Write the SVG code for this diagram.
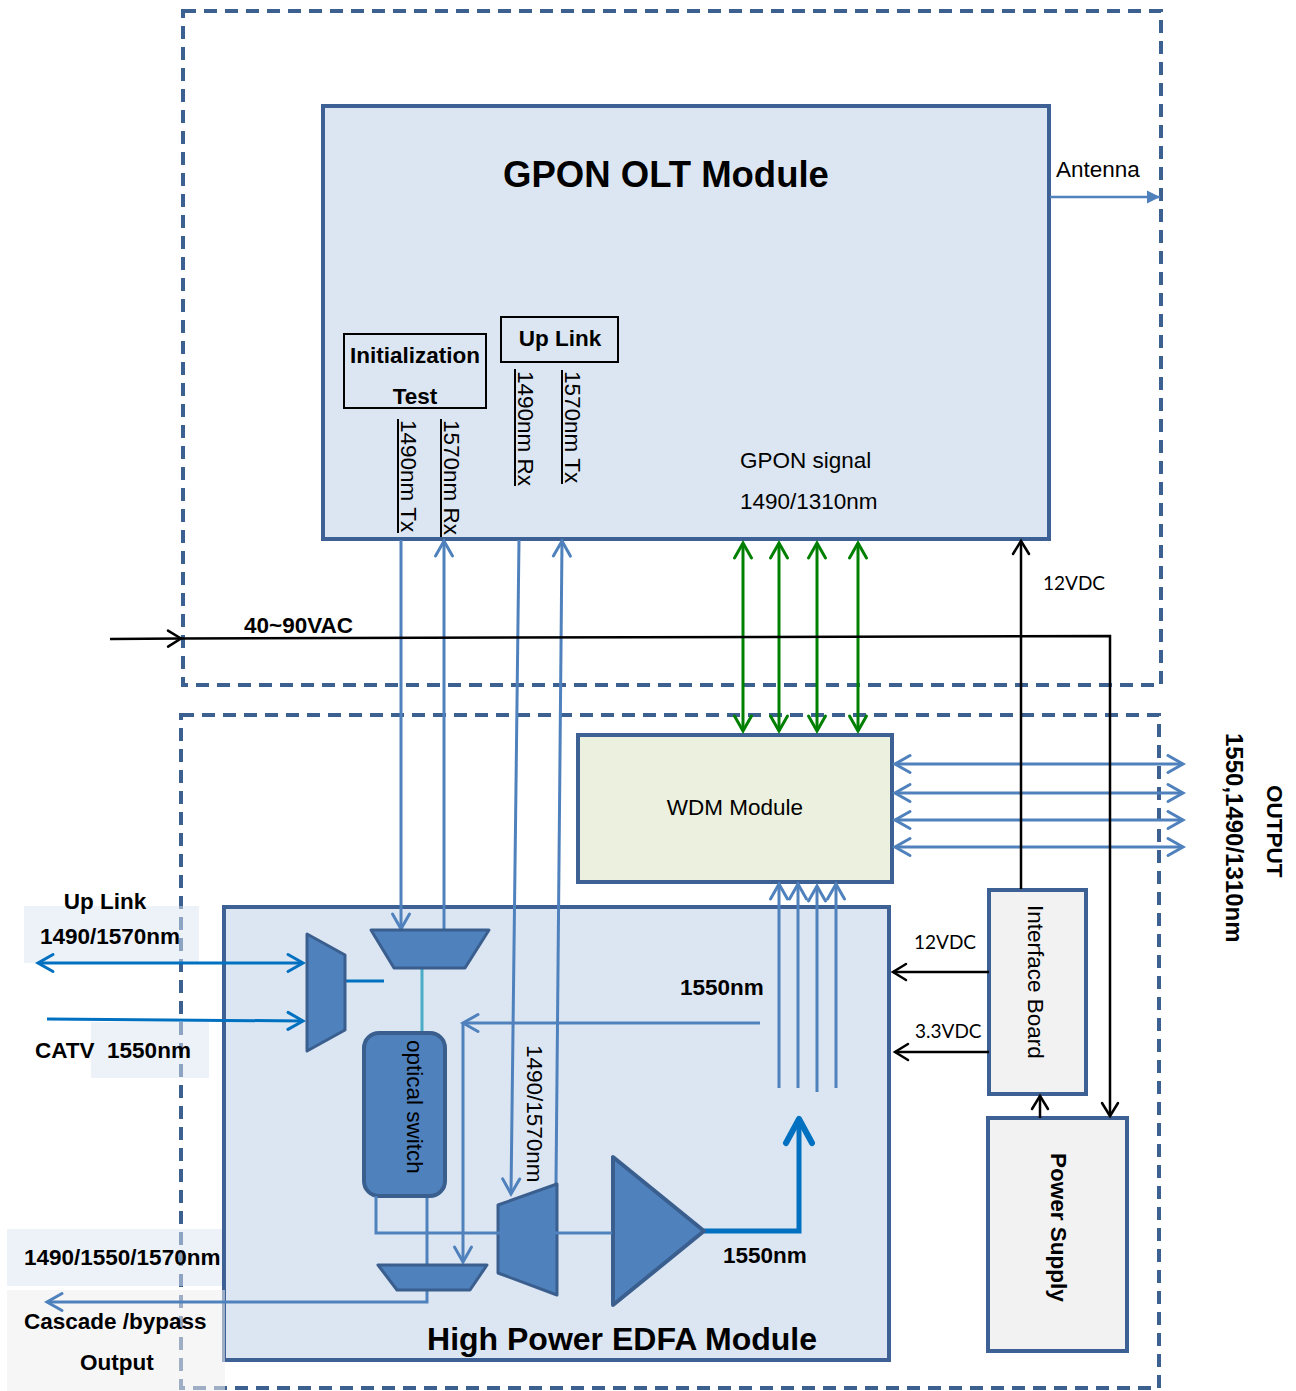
<svg xmlns="http://www.w3.org/2000/svg" width="1296" height="1391" viewBox="0 0 1296 1391">
<style>
.t{font-family:"Liberation Sans",Arial,sans-serif;font-size:22.5px;fill:#000}
.b{font-weight:bold}
.c{font-family:Lato,"Liberation Sans",sans-serif;font-size:19px;fill:#000}
.dash{fill:none;stroke:#3c6090;stroke-width:4;stroke-dasharray:13 8}
.mod{fill:#dce6f2;stroke:#3d6194;stroke-width:4}
.gray{fill:#f2f2f2;stroke:#3d6194;stroke-width:4}
.dev{fill:#4f81bd;stroke:#3a5f8f;stroke-width:3;stroke-linejoin:round}
.bl{fill:none;stroke:#4f81bd;stroke-width:3}
.db{fill:none;stroke:#0070c0;stroke-width:3}
.gr{fill:none;stroke:#008000;stroke-width:3}
.bk{fill:none;stroke:#000;stroke-width:2.5}
.ul{stroke:#000;stroke-width:2}
</style>
<defs>
<marker id="mb" viewBox="-16 -10 18 20" refX="0" refY="0" markerWidth="18" markerHeight="20" markerUnits="userSpaceOnUse" orient="auto-start-reverse" overflow="visible"><path d="M-15,-8.5 L0,0 L-15,8.5" fill="none" stroke="#4f81bd" stroke-width="3" stroke-linecap="round"/></marker>
<marker id="md" viewBox="-16 -10 18 20" refX="0" refY="0" markerWidth="18" markerHeight="20" markerUnits="userSpaceOnUse" orient="auto-start-reverse" overflow="visible"><path d="M-15,-8.5 L0,0 L-15,8.5" fill="none" stroke="#0070c0" stroke-width="3" stroke-linecap="round"/></marker>
<marker id="mg" viewBox="-16 -10 18 20" refX="0" refY="0" markerWidth="18" markerHeight="20" markerUnits="userSpaceOnUse" orient="auto-start-reverse" overflow="visible"><path d="M-15,-8.5 L0,0 L-15,8.5" fill="none" stroke="#008000" stroke-width="3" stroke-linecap="round"/></marker>
<marker id="mk" viewBox="-16 -10 18 20" refX="0" refY="0" markerWidth="18" markerHeight="20" markerUnits="userSpaceOnUse" orient="auto-start-reverse" overflow="visible"><path d="M-13,-8 L0,0 L-13,8" fill="none" stroke="#000" stroke-width="2.5" stroke-linecap="round"/></marker>
<marker id="mt" viewBox="-30 -16 32 32" refX="0" refY="0" markerWidth="32" markerHeight="32" markerUnits="userSpaceOnUse" orient="auto" overflow="visible"><path d="M-24,-13 L0,0 L-24,13" fill="none" stroke="#0070c0" stroke-width="6" stroke-linecap="round" stroke-linejoin="round"/></marker>
<marker id="ma" viewBox="-14 -7 14 14" refX="0" refY="0" markerWidth="14" markerHeight="14" markerUnits="userSpaceOnUse" orient="auto" overflow="visible"><path d="M-13,-6.5 L0,0 L-13,6.5 Z" fill="#4f81bd"/></marker>
</defs>
<rect width="1296" height="1391" fill="#fff"/>

<g id="olt-enclosure"><rect class="dash" x="183" y="11" width="978" height="674"/></g>
<g id="edfa-enclosure"><rect class="dash" x="181" y="715" width="978" height="673"/></g>

<g id="gpon-olt">
<rect class="mod" x="323" y="106" width="726" height="433"/>
<text class="t b" x="666" y="187" text-anchor="middle" style="font-size:36.5px">GPON OLT Module</text>
<text class="t" x="740" y="468">GPON signal</text>
<text class="t" x="740" y="509">1490/1310nm</text>
</g>
<g id="init-test">
<rect x="344" y="334" width="142" height="74" fill="none" stroke="#000" stroke-width="2"/>
<text class="t b" x="415" y="363" text-anchor="middle">Initialization</text>
<text class="t b" x="415" y="404" text-anchor="middle">Test</text>
<line class="ul" x1="398" y1="419" x2="398" y2="533"/>
<text class="t" transform="translate(401,420) rotate(90)">1490nm Tx</text>
<line class="ul" x1="441" y1="419" x2="441" y2="537"/>
<text class="t" transform="translate(444,420) rotate(90)">1570nm Rx</text>
</g>
<g id="uplink-port">
<rect x="501" y="317" width="117" height="45" fill="none" stroke="#000" stroke-width="2"/>
<text class="t b" x="560" y="346" text-anchor="middle">Up Link</text>
<line class="ul" x1="515" y1="369" x2="515" y2="486"/>
<text class="t" transform="translate(518,371) rotate(90)">1490nm Rx</text>
<line class="ul" x1="562" y1="370" x2="562" y2="484"/>
<text class="t" transform="translate(565,371) rotate(90)">1570nm Tx</text>
</g>

<g id="wdm">
<rect x="578" y="735" width="314" height="147" fill="#ebf1de" stroke="#3d6194" stroke-width="4"/>
<text class="t" x="735" y="815" text-anchor="middle">WDM Module</text>
</g>

<g id="edfa">
<rect class="mod" x="224" y="907" width="665" height="453"/>
<text class="t b" x="622" y="1350" text-anchor="middle" style="font-size:32px">High Power EDFA Module</text>
<text class="t b" x="680" y="995">1550nm</text>
<text class="t b" x="723" y="1263">1550nm</text>
<text class="t" transform="translate(527,1045) rotate(90)">1490/1570nm</text>
</g>

<g id="interface-board">
<rect class="gray" x="989" y="890" width="97" height="204"/>
<text class="t" transform="translate(1028,905) rotate(90)">Interface Board</text>
</g>
<g id="power-supply">
<rect class="gray" x="988" y="1118" width="139" height="233"/>
<text class="t b" transform="translate(1051,1153) rotate(90)">Power Supply</text>
</g>

<g id="label-backgrounds">
<rect x="24" y="906" width="175" height="57" fill="#dce6f2" fill-opacity="0.5"/>
<rect x="91" y="1022" width="118" height="56" fill="#dce6f2" fill-opacity="0.5"/>
<rect x="7" y="1229" width="215" height="57" fill="#dce6f2" fill-opacity="0.5"/>
<rect x="7" y="1290" width="218" height="101" fill="#eeeeee" fill-opacity="0.55"/>
</g>

<g id="connectors">
<line class="bl" x1="401" y1="540" x2="401" y2="929" marker-end="url(#mb)"/>
<line class="bl" x1="444" y1="930" x2="444" y2="541" marker-end="url(#mb)"/>
<line class="bl" x1="519" y1="540" x2="511" y2="1194" marker-end="url(#mb)"/>
<line class="bl" x1="556" y1="1184" x2="562" y2="541" marker-end="url(#mb)"/>
<line class="gr" x1="743" y1="543" x2="743" y2="731" marker-start="url(#mg)" marker-end="url(#mg)"/>
<line class="gr" x1="779" y1="543" x2="779" y2="731" marker-start="url(#mg)" marker-end="url(#mg)"/>
<line class="gr" x1="817" y1="543" x2="817" y2="731" marker-start="url(#mg)" marker-end="url(#mg)"/>
<line class="gr" x1="858" y1="543" x2="858" y2="731" marker-start="url(#mg)" marker-end="url(#mg)"/>
<line class="bl" x1="895" y1="764" x2="1183" y2="764" marker-start="url(#mb)" marker-end="url(#mb)"/>
<line class="bl" x1="895" y1="793" x2="1183" y2="793" marker-start="url(#mb)" marker-end="url(#mb)"/>
<line class="bl" x1="895" y1="820" x2="1183" y2="820" marker-start="url(#mb)" marker-end="url(#mb)"/>
<line class="bl" x1="895" y1="847" x2="1183" y2="847" marker-start="url(#mb)" marker-end="url(#mb)"/>
<line class="bl" x1="779" y1="1088" x2="779" y2="884" marker-end="url(#mb)"/>
<line class="bl" x1="798" y1="1088" x2="798" y2="884" marker-end="url(#mb)"/>
<line class="bl" x1="817" y1="1092" x2="817" y2="886" marker-end="url(#mb)"/>
<line class="bl" x1="836" y1="1088" x2="836" y2="884" marker-end="url(#mb)"/>
<line x1="1050" y1="197" x2="1160" y2="197" stroke="#4f81bd" stroke-width="2.5" marker-end="url(#ma)"/>
<line class="bk" x1="110" y1="639" x2="181" y2="638.5" marker-end="url(#mk)"/>
<path class="bk" d="M181,638.5 L1110,636 L1110,1116" marker-end="url(#mk)"/>
<line class="bk" x1="1021" y1="889" x2="1021" y2="541" marker-end="url(#mk)"/>
<line class="bk" x1="1040" y1="1118" x2="1040" y2="1096" marker-end="url(#mk)"/>
<line class="bk" x1="989" y1="972" x2="893" y2="972" marker-end="url(#mk)"/>
<line class="bk" x1="989" y1="1052" x2="895" y2="1052" marker-end="url(#mk)"/>
<line class="db" x1="38" y1="963" x2="303" y2="963" marker-start="url(#md)" marker-end="url(#md)"/>
<line class="db" x1="47" y1="1019" x2="303" y2="1021" marker-end="url(#md)"/>
<line class="db" x1="345" y1="981" x2="384" y2="981"/>
<line x1="422" y1="968" x2="422" y2="1033" stroke="#4bacc6" stroke-width="3"/>
<line class="bl" x1="760" y1="1023" x2="463" y2="1023" marker-end="url(#mb)"/>
<line class="bl" x1="463" y1="1024" x2="463" y2="1262" marker-end="url(#mb)"/>
<path class="bl" d="M427,1196 L427,1302 L47,1302" marker-end="url(#mb)"/>
<path d="M704,1231 L799,1231 L799,1119" fill="none" stroke="#0070c0" stroke-width="5" marker-end="url(#mt)"/>
</g>

<g id="optical-switch">
<rect x="364" y="1033" width="81" height="163" rx="15" fill="#4f81bd" stroke="#3a5f8f" stroke-width="4"/>
<text class="t" transform="translate(407,1040) rotate(90)">optical switch</text>
</g>
<g id="mux-left"><polygon class="dev" points="307,934 345,955 345,1030 307,1051"/></g>
<g id="mux-top"><polygon class="dev" points="371,930 489,930 465,968 394,968"/></g>
<g id="mux-bottom"><polygon class="dev" points="378,1265 487,1265 470,1290 397,1290"/></g>
<g id="demux"><polygon class="dev" points="498,1205 557,1184 557,1295 498,1273"/></g>
<g id="amplifier"><polygon class="dev" points="613,1157 613,1305 704,1231" style="stroke-width:4"/></g>
<g id="switch-link"><path class="bl" d="M376,1196 L376,1233 L612,1233"/></g>

<g id="labels">
<text class="t" x="1056" y="177">Antenna</text>
<text class="t b" x="244" y="633">40~90VAC</text>
<text class="c" x="1043" y="590">12VDC</text>
<text class="c" x="914" y="949">12VDC</text>
<text class="c" x="915" y="1038">3.3VDC</text>
<text class="t b" transform="translate(1267,785) rotate(90)">OUTPUT</text>
<text class="t b" transform="translate(1226,733) rotate(90)" style="font-size:24px">1550,1490/1310nm</text>
<text class="t b" x="105" y="909" text-anchor="middle">Up Link</text>
<text class="t b" x="40" y="944">1490/1570nm</text>
<text class="t b" x="35" y="1058" xml:space="preserve">CATV  1550nm</text>
<text class="t b" x="24" y="1265">1490/1550/1570nm</text>
<text class="t b" x="24" y="1329">Cascade /bypass</text>
<text class="t b" x="80" y="1370">Output</text>
</g>
</svg>
